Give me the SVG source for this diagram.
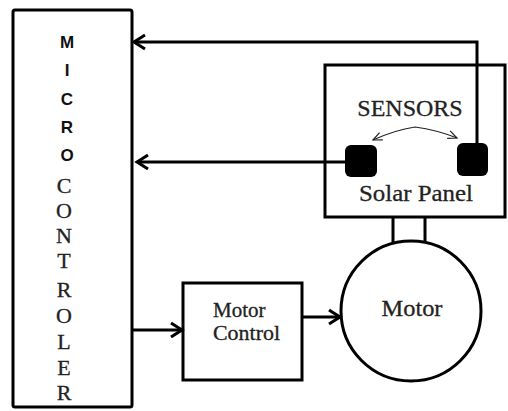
<svg xmlns="http://www.w3.org/2000/svg" width="508" height="411" viewBox="0 0 508 411">
<style>
.box{fill:#fff;stroke:#000;stroke-width:3}
.ln{fill:none;stroke:#000;stroke-width:3}
.thin{fill:none;stroke:#222;stroke-width:1.2}
.serif{font-family:"Liberation Serif","Times New Roman",serif;fill:#222;stroke:#222;stroke-width:0.3}
.sans{font-family:"Liberation Sans",Arial,sans-serif;font-weight:bold;fill:#111}
</style>
<defs>
<marker id="ah" markerUnits="userSpaceOnUse" markerWidth="16" markerHeight="18" refX="13" refY="9" orient="auto">
<polyline points="2,2 13,9 2,16" fill="none" stroke="#000" stroke-width="3" stroke-linejoin="miter"/>
</marker>
<marker id="th" markerUnits="userSpaceOnUse" markerWidth="12" markerHeight="12" refX="10" refY="6" orient="auto-start-reverse">
<polyline points="1,2 10,6 1,10" fill="none" stroke="#222" stroke-width="1.2"/>
</marker>
</defs>
<g id="microcontroller">
<rect class="box" x="13" y="10" width="119" height="397" rx="2"/>
<g class="sans" font-size="17" text-anchor="middle">
<text x="67" y="48">M</text>
<text x="67" y="76">I</text>
<text x="67" y="105">C</text>
<text x="67" y="133">R</text>
<text x="67" y="161">O</text>
</g>
<g class="serif" font-size="22" text-anchor="middle">
<text x="64" y="193">C</text>
<text x="64" y="218">O</text>
<text x="64" y="243">N</text>
<text x="64" y="268">T</text>
<text x="64" y="297">R</text>
<text x="64" y="323">O</text>
<text x="64" y="349">L</text>
<text x="64" y="375">E</text>
<text x="64" y="400">R</text>
</g>
</g>
<g id="solar-panel">
<rect class="box" x="325" y="65" width="180" height="152"/>
<text class="serif" x="410" y="116" font-size="24" text-anchor="middle">SENSORS</text>
<text class="serif" x="416" y="201" font-size="24" text-anchor="middle" textLength="114" lengthAdjust="spacingAndGlyphs">Solar Panel</text>
</g>
<g id="sensor-left">
<rect x="345" y="145" width="32" height="32" rx="6" fill="#000"/>
</g>
<g id="sensor-right">
<rect x="457" y="143" width="31" height="33" rx="6" fill="#000"/>
</g>
<g id="motor-control">
<rect class="box" x="183" y="283" width="119" height="97"/>
<text class="serif" x="213" y="317" font-size="21">Motor</text>
<text class="serif" x="213" y="340" font-size="21" textLength="67" lengthAdjust="spacingAndGlyphs">Control</text>
</g>
<g id="motor">
<line class="ln" x1="393" y1="216" x2="393" y2="244"/>
<line class="ln" x1="425" y1="216" x2="425" y2="243"/>
<circle class="box" cx="411" cy="311" r="70"/>
<text class="serif" x="412" y="316" font-size="23" text-anchor="middle" textLength="61" lengthAdjust="spacingAndGlyphs">Motor</text>
</g>
<g id="connectors">
<polyline class="ln" points="477,143 477,42 134,42" marker-end="url(#ah)"/>
<line class="ln" x1="345" y1="162" x2="137" y2="162" marker-end="url(#ah)"/>
<line class="ln" x1="132" y1="330" x2="182" y2="330" marker-end="url(#ah)"/>
<line class="ln" x1="302" y1="317" x2="340" y2="317" marker-end="url(#ah)"/>
<path class="thin" d="M373,140 Q395,130 415,127 Q437,130 457,138" marker-start="url(#th)" marker-end="url(#th)"/>
</g>
</svg>
